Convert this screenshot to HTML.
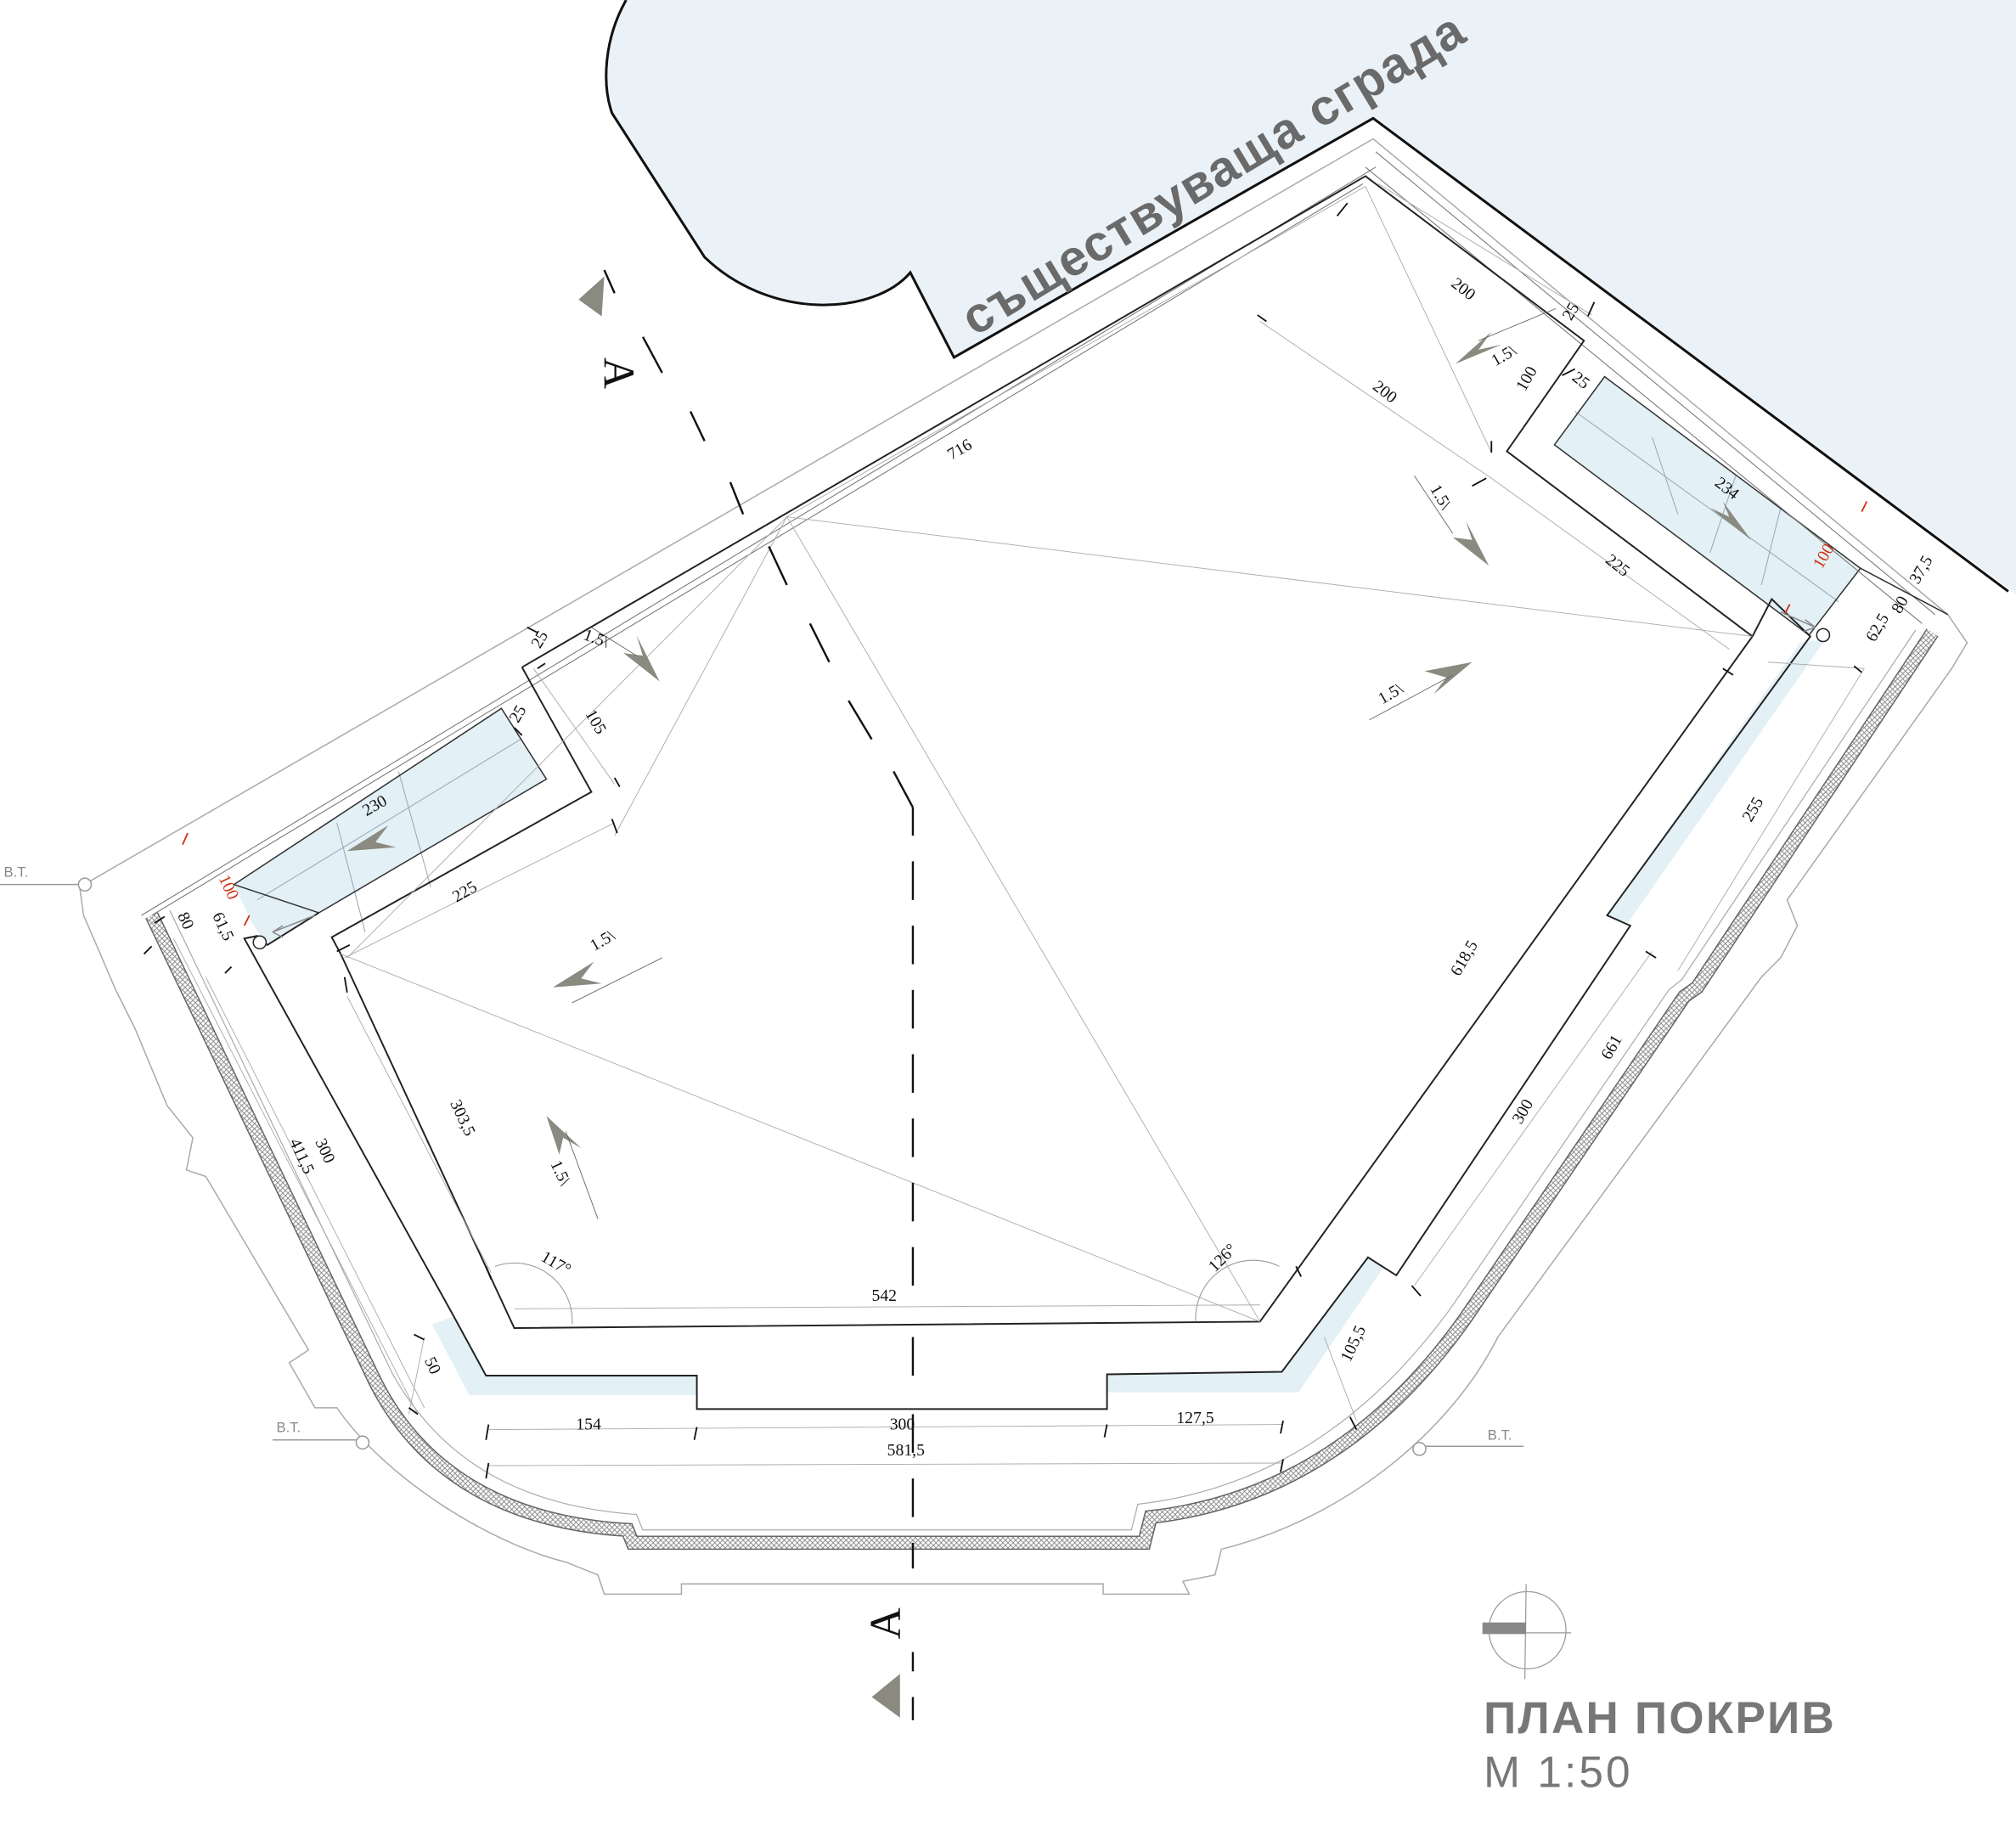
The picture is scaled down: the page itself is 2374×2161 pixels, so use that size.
<!DOCTYPE html>
<html><head><meta charset="utf-8"><style>
html,body{margin:0;padding:0;background:#fff;}
svg{display:block}
text{font-family:"Liberation Serif",serif;fill:#111}
.s{font-family:"Liberation Sans","DejaVu Sans",sans-serif}
</style></head><body>
<svg width="2374" height="2161" viewBox="0 0 1568 1427.3" preserveAspectRatio="none" xmlns="http://www.w3.org/2000/svg">
<defs>
<pattern id="h" width="4" height="4" patternUnits="userSpaceOnUse">
<rect width="4" height="4" fill="#fff"/><path d="M0,0L4,4M4,0L0,4" stroke="#888" stroke-width="0.6"/>
</pattern>
</defs>
<rect width="1568" height="1427.3" fill="#fff"/>
<!-- existing building -->
<path d="M487,0 C470,30 468,65 476,88 L548,200 C600,250 680,245 708,212 L742,278 L1068,92 L1568,462 L1568,0 Z" fill="#eaf2f7" stroke="none"/>
<path d="M487,0 C470,30 468,65 476,88 L548,200 C600,250 680,245 708,212 L742,278 L1068,92 L1562,460" fill="none" stroke="#111" stroke-width="2"/>
<text class="s" x="0" y="0" font-size="39" font-weight="bold" letter-spacing="1" style="fill:#6a6a6a" transform="translate(758,262) rotate(-31)">съществуваща сграда</text>

<!-- outer footprint outline -->
<path d="M62,690 L1068,108 L1515,478 L1530,500 L1518,520 L1390,700 L1398,720 L1385,745 L1370,760 L1165,1040 C1130,1110 1050,1180 950,1205 L945,1225 L920,1230 L925,1240 L858,1240 L858,1232 L530,1232 L530,1240 L470,1240 L465,1225 L440,1215 C380,1200 300,1150 262,1095 L245,1095 L225,1060 L240,1050 L160,915 L145,910 L150,885 L130,860 L105,800 L90,770 L75,735 L65,712 Z" fill="none" stroke="#aaa" stroke-width="1"/>
<line x1="0" y1="688" x2="62" y2="688" stroke="#999" stroke-width="1"/>
<circle cx="66" cy="688" r="5" fill="#fff" stroke="#999"/>
<text class="s" x="3" y="682" font-size="11" style="fill:#888">B.T.</text>
<line x1="212" y1="1120" x2="278" y2="1120" stroke="#999"/>
<circle cx="282" cy="1122" r="5" fill="#fff" stroke="#999"/>
<text class="s" x="215" y="1114" font-size="11" style="fill:#888">B.T.</text>
<line x1="1108" y1="1125" x2="1185" y2="1125" stroke="#999"/>
<circle cx="1104" cy="1127" r="5" fill="#fff" stroke="#999"/>
<text class="s" x="1157" y="1120" font-size="11" style="fill:#888">B.T.</text>

<!-- hatched band -->
<path d="M118,712 L292,1075 C330,1150 400,1185 488,1190 L492,1200 L890,1200 L895,1180 C1000,1168 1080,1110 1140,1025 L1310,775 L1320,768 L1503,492" fill="none" stroke="#666" stroke-width="11"/>
<path d="M118,712 L292,1075 C330,1150 400,1185 488,1190 L492,1200 L890,1200 L895,1180 C1000,1168 1080,1110 1140,1025 L1310,775 L1320,768 L1503,492" fill="none" stroke="url(#h)" stroke-width="9"/>
<path d="M132,708 L305,1068 C345,1140 410,1172 495,1178 L500,1190 L880,1190 L885,1170 C990,1158 1068,1100 1128,1018 L1298,770 L1308,762 L1490,490" fill="none" stroke="#aaa" stroke-width="0.8"/>

<!-- blue strips -->
<g fill="#e3f0f5" stroke="none">
<polygon points="182,688 390,551 425,606 248,710 208,735 196,718"/>
<polygon points="336,1030 353,1024 378,1070 542,1070 542,1085 365,1085"/>
<polygon points="1064,978 1076,986 1010,1083 861,1083 861,1069 997,1067"/>
<polygon points="1400,500 1420,497 1266,718 1250,712"/>
<polygon points="1248,293 1209,346 1407,494 1447,442"/>
</g>
<g stroke="#9ab" stroke-width="0.7" fill="none">
<line x1="262" y1="640" x2="284" y2="725"/><line x1="310" y1="600" x2="335" y2="690"/>
<line x1="1285" y1="340" x2="1305" y2="400"/><line x1="1350" y1="370" x2="1330" y2="430"/><line x1="1385" y1="395" x2="1370" y2="455"/>
<line x1="200" y1="700" x2="405" y2="575"/><line x1="1225" y1="320" x2="1430" y2="468"/>
</g>
<g fill="none" stroke="#333" stroke-width="1">
<polygon points="182,688 390,551 425,606 248,710"/>
<polygon points="1248,293 1209,346 1407,494 1447,442"/>
</g>

<!-- parapet lines -->
<path d="M110,712 L1070,130 M118,712 L1060,143" stroke="#777" stroke-width="0.7" fill="none"/>
<path d="M1070,118 L1505,478 M1062,130 L1495,485" stroke="#777" stroke-width="0.7" fill="none"/>

<!-- roof field F -->
<path d="M406,519 L1062,137 L1232,265 L1172,351 L1363,495 L980,1028 L400,1033 L265,742 L258,729 L460,616 L406,519" fill="none" stroke="#222" stroke-width="1.3"/>
<!-- terrace outline P -->
<path d="M248,710 L208,735 L200,728 L190,730 L353,1024 L378,1070 L542,1070 L542,1096 L861,1096 L861,1069 L997,1067 L1064,978 L1086,992 L1268,720 L1250,712 L1408,495 L1378,466 L1363,495" fill="none" stroke="#222" stroke-width="1.3"/>
<line x1="1447" y1="442" x2="1515" y2="478" stroke="#333" stroke-width="1"/>

<!-- construction diagonals -->
<g stroke="#aaa" stroke-width="0.6" fill="none">
<line x1="612" y1="402" x2="1363" y2="495"/>
<line x1="612" y1="402" x2="980" y2="1028"/>
<line x1="612" y1="402" x2="478" y2="650"/>
<line x1="265" y1="742" x2="980" y2="1028"/>
<line x1="612" y1="402" x2="270" y2="745"/>
<line x1="1062" y1="145" x2="1160" y2="352"/>
<line x1="1062" y1="145" x2="612" y2="402"/>
<line x1="400" y1="1018" x2="980" y2="1015"/>
<line x1="380" y1="1112" x2="998" y2="1108"/>
<line x1="380" y1="1140" x2="998" y2="1138"/>
<line x1="980" y1="250" x2="1160" y2="372"/>
<line x1="1160" y1="372" x2="1345" y2="505"/>
<line x1="415" y1="520" x2="478" y2="610"/>
<line x1="268" y1="745" x2="478" y2="640"/>
<line x1="270" y1="775" x2="382" y2="990"/>
<line x1="160" y1="760" x2="330" y2="1095"/>
<line x1="135" y1="730" x2="325" y2="1100"/>
<line x1="1285" y1="740" x2="1100" y2="1000"/>
<line x1="1450" y1="520" x2="1305" y2="755"/>
<line x1="1030" y1="1040" x2="1055" y2="1105"/>
<line x1="330" y1="1040" x2="318" y2="1100"/>
<line x1="1072" y1="143" x2="1238" y2="245"/>
<line x1="1375" y1="515" x2="1450" y2="520"/>
</g>
<!-- arcs -->
<path d="M385,985 A45,45 0 0 1 445,1030" fill="none" stroke="#999" stroke-width="0.7"/>
<path d="M930,1028 A45,45 0 0 1 995,985" fill="none" stroke="#999" stroke-width="0.7"/>

<!-- section line -->
<g stroke="#111" stroke-width="1.6">
<line x1="470" y1="210" x2="478" y2="228"/>
<line x1="500" y1="262" x2="515" y2="290"/>
<line x1="537" y1="320" x2="548" y2="343"/>
<line x1="568" y1="375" x2="578" y2="400"/>
<line x1="598" y1="425" x2="612" y2="455"/>
<line x1="630" y1="485" x2="645" y2="515"/>
<line x1="660" y1="545" x2="678" y2="575"/>
<line x1="695" y1="600" x2="710" y2="628"/>
<line x1="710" y1="628" x2="710" y2="650"/>
<line x1="710" y1="670" x2="710" y2="700"/>
<line x1="710" y1="720" x2="710" y2="750"/>
<line x1="710" y1="770" x2="710" y2="800"/>
<line x1="710" y1="820" x2="710" y2="850"/>
<line x1="710" y1="870" x2="710" y2="900"/>
<line x1="710" y1="920" x2="710" y2="950"/>
<line x1="710" y1="970" x2="710" y2="1000"/>
<line x1="710" y1="1040" x2="710" y2="1070"/>
<line x1="710" y1="1100" x2="710" y2="1130"/>
<line x1="710" y1="1150" x2="710" y2="1180"/>
<line x1="710" y1="1200" x2="710" y2="1220"/>
<line x1="710" y1="1285" x2="710" y2="1300"/>
<line x1="710" y1="1320" x2="710" y2="1338"/>
</g>
<polygon points="450,233 470,215 468,246" fill="#8a8a80"/>
<polygon points="678,1320 700,1302 700,1336" fill="#8a8a80"/>
<text x="0" y="0" font-size="34" transform="translate(470,278) rotate(90)">A</text>
<text x="0" y="0" font-size="34" transform="translate(700,1275) rotate(-90)">A</text>

<!-- slope arrows -->
<g fill="#8a8a80">
<polygon points="1132,283 1160,258 1150,272 1168,268"/>
<polygon points="1158,440 1130,418 1145,420 1140,405"/>
<polygon points="513,530 485,508 500,510 495,494"/>
<polygon points="1145,515 1115,540 1125,527 1108,522"/>
<polygon points="430,768 462,748 452,761 468,765"/>
<polygon points="425,868 435,898 438,885 452,893"/>
<polygon points="1362,420 1330,395 1345,402 1340,390"/>
<polygon points="270,662 302,642 292,655 308,659"/>
</g>
<g stroke="#666" stroke-width="0.6"><line x1="1065" y1="560" x2="1130" y2="525"/><line x1="445" y1="780" x2="515" y2="745"/><line x1="440" y1="880" x2="465" y2="948"/><line x1="1150" y1="265" x2="1210" y2="240"/><line x1="1130" y1="415" x2="1100" y2="370"/><line x1="495" y1="510" x2="460" y2="488"/></g>

<!-- dimension texts -->
<g font-size="13">
<text transform="translate(1128,222) rotate(38)">200</text>
<text transform="translate(1163,285) rotate(-30)">1.5\</text>
<text transform="translate(1222,250) rotate(-60)">25</text>
<text transform="translate(1186,305) rotate(-60)">100</text>
<text transform="translate(1222,295) rotate(38)">25</text>
<text transform="translate(1067,302) rotate(38)">200</text>
<text transform="translate(740,358) rotate(-30)">716</text>
<text transform="translate(1112,380) rotate(60)">1.5\</text>
<text transform="translate(1333,377) rotate(38)">234</text>
<text transform="translate(1248,437) rotate(38)">225</text>
<text transform="translate(1417,443) rotate(-60)" style="fill:#d03010">100</text>
<text transform="translate(1492,455) rotate(-60)">37,5</text>
<text transform="translate(1478,478) rotate(-60)">80</text>
<text transform="translate(1458,500) rotate(-60)">62,5</text>
<text transform="translate(1075,548) rotate(-30)">1.5\</text>
<text transform="translate(1362,640) rotate(-60)">255</text>
<text transform="translate(1135,760) rotate(-60)">618,5</text>
<text transform="translate(1252,825) rotate(-60)">661</text>
<text transform="translate(1183,875) rotate(-60)">300</text>
<text transform="translate(945,990) rotate(-45)">126°</text>
<text transform="translate(1050,1060) rotate(-65)">105,5</text>
<text x="678" y="1012">542</text>
<text x="692" y="1112">300</text>
<text x="448" y="1112">154</text>
<text x="915" y="1107">127,5</text>
<text x="690" y="1132">581,5</text>
<text transform="translate(420,980) rotate(30)">117°</text>
<text transform="translate(330,1058) rotate(65)">50</text>
<text transform="translate(350,858) rotate(65)">303,5</text>
<text transform="translate(428,905) rotate(65)">1.5\</text>
<text transform="translate(245,888) rotate(65)">300</text>
<text transform="translate(225,888) rotate(65)">411,5</text>
<text transform="translate(462,740) rotate(-30)">1.5\</text>
<text transform="translate(355,702) rotate(-30)">225</text>
<text transform="translate(285,635) rotate(-30)">230</text>
<text transform="translate(403,563) rotate(-60)">25</text>
<text transform="translate(455,555) rotate(60)">105</text>
<text transform="translate(420,505) rotate(-60)">25</text>
<text transform="translate(453,497) rotate(20)">1.5\</text>
<text transform="translate(170,683) rotate(65)" style="fill:#d03010">100</text>
<text transform="translate(138,712) rotate(65)">80</text>
<text transform="translate(165,712) rotate(65)">61,5</text>
</g>
<!-- ticks -->
<g stroke="#111" stroke-width="1.2">
<line x1="1040" y1="168" x2="1048" y2="158"/><line x1="1240" y1="235" x2="1235" y2="246"/><line x1="978" y1="245" x2="985" y2="250"/>
<line x1="1145" y1="378" x2="1156" y2="372"/><line x1="1160" y1="343" x2="1160" y2="352"/><line x1="1215" y1="292" x2="1225" y2="287"/>
<line x1="1340" y1="520" x2="1348" y2="525"/><line x1="1280" y1="740" x2="1288" y2="745"/><line x1="1442" y1="518" x2="1448" y2="523"/>
<line x1="1098" y1="1000" x2="1105" y2="1008"/><line x1="1050" y1="1102" x2="1055" y2="1112"/>
<line x1="380" y1="1108" x2="378" y2="1120"/><line x1="542" y1="1110" x2="540" y2="1120"/><line x1="861" y1="1108" x2="859" y2="1118"/><line x1="998" y1="1105" x2="996" y2="1115"/>
<line x1="380" y1="1138" x2="378" y2="1150"/><line x1="998" y1="1135" x2="996" y2="1145"/>
<line x1="378" y1="985" x2="382" y2="995"/><line x1="1008" y1="985" x2="1012" y2="993"/>
<line x1="322" y1="1038" x2="330" y2="1042"/><line x1="318" y1="1095" x2="325" y2="1100"/>
<line x1="268" y1="760" x2="270" y2="772"/><line x1="262" y1="740" x2="272" y2="735"/>
<line x1="476" y1="637" x2="480" y2="648"/><line x1="478" y1="605" x2="482" y2="612"/>
<line x1="410" y1="488" x2="418" y2="492"/><line x1="418" y1="520" x2="424" y2="516"/><line x1="400" y1="566" x2="406" y2="572"/>
<line x1="120" y1="718" x2="128" y2="713"/><line x1="112" y1="742" x2="118" y2="736"/><line x1="175" y1="757" x2="180" y2="752"/>
</g>
<g stroke="#d03010" stroke-width="1.2"><line x1="142" y1="657" x2="146" y2="648"/><line x1="1448" y1="398" x2="1452" y2="390"/><line x1="1388" y1="478" x2="1392" y2="470"/><line x1="190" y1="720" x2="194" y2="712"/></g>
<!-- drains -->
<circle cx="202" cy="733" r="5" fill="#fff" stroke="#222"/>
<circle cx="1418" cy="494" r="5" fill="#fff" stroke="#222"/>
<path d="M212,725 L245,712 M212,725 L220,720 M212,725 L220,729" stroke="#888" fill="none"/>
<path d="M1385,476 L1412,488 M1412,488 L1404,482 M1412,488 L1403,491" stroke="#888" fill="none"/>

<!-- compass -->
<circle cx="1188" cy="1268" r="30" fill="none" stroke="#999" stroke-width="0.8"/>
<line x1="1187" y1="1232" x2="1186" y2="1306" stroke="#999" stroke-width="0.8"/>
<line x1="1187" y1="1270" x2="1222" y2="1270" stroke="#999" stroke-width="0.8"/>
<rect x="1153" y="1262" width="34" height="9" fill="#888"/>
<text class="s" x="1154" y="1348" font-size="35" font-weight="bold" letter-spacing="1.5" style="fill:#777">ПЛАН ПОКРИВ</text>
<text class="s" x="1154" y="1390" font-size="34" letter-spacing="2" style="fill:#777">M 1:50</text>
</svg>
</body></html>
